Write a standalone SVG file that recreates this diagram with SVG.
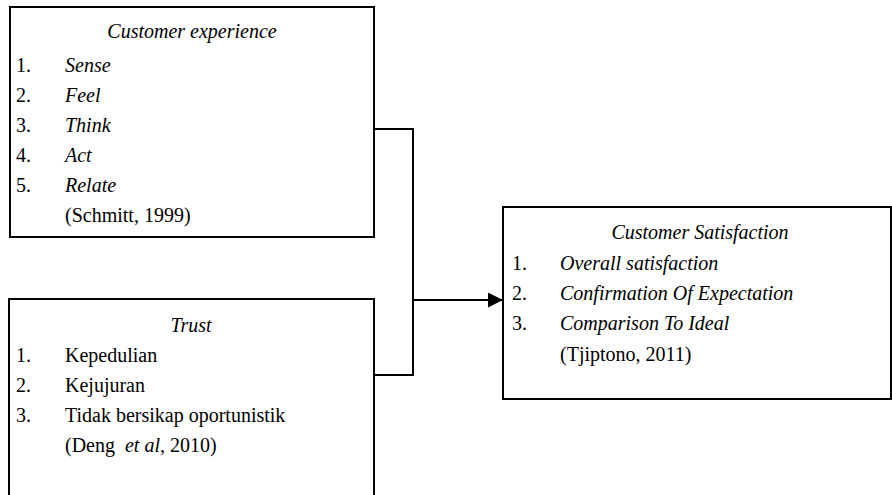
<svg xmlns="http://www.w3.org/2000/svg" width="892" height="495" viewBox="0 0 892 495">
<defs>
<marker id="arr" markerWidth="16" markerHeight="16" refX="15" refY="7.5" orient="auto" markerUnits="userSpaceOnUse">
<path d="M0,0 L15,7.5 L0,15 Z" fill="#000"/>
</marker>
</defs>
<rect width="892" height="495" fill="#fff"/>
<g id="connectors" fill="none" stroke="#000" stroke-width="2">
<polyline points="374,129 413,129 413,375 374,375"/>
<line x1="413" y1="300" x2="503" y2="300" marker-end="url(#arr)"/>
</g>
<g id="customer-experience">
<rect x="10" y="7" width="364" height="230" fill="#fff" stroke="#000" stroke-width="2"/>
<text style="font-family:'Liberation Serif';font-size:20px;font-style:italic" text-anchor="middle" x="192" y="38">Customer experience</text>
<text style="font-family:'Liberation Serif';font-size:20px" x="16" y="72">1.</text>
<text style="font-family:'Liberation Serif';font-size:20px;font-style:italic" x="65" y="72">Sense</text>
<text style="font-family:'Liberation Serif';font-size:20px" x="16" y="102">2.</text>
<text style="font-family:'Liberation Serif';font-size:20px;font-style:italic" x="65" y="102">Feel</text>
<text style="font-family:'Liberation Serif';font-size:20px" x="16" y="132">3.</text>
<text style="font-family:'Liberation Serif';font-size:20px;font-style:italic" x="65" y="132">Think</text>
<text style="font-family:'Liberation Serif';font-size:20px" x="16" y="162">4.</text>
<text style="font-family:'Liberation Serif';font-size:20px;font-style:italic" x="65" y="162">Act</text>
<text style="font-family:'Liberation Serif';font-size:20px" x="16" y="192">5.</text>
<text style="font-family:'Liberation Serif';font-size:20px;font-style:italic" x="65" y="192">Relate</text>
<text style="font-family:'Liberation Serif';font-size:20px" x="65" y="222">(Schmitt, 1999)</text>
</g>
<g id="trust">
<rect x="9" y="299" width="365" height="210" fill="#fff" stroke="#000" stroke-width="2"/>
<text style="font-family:'Liberation Serif';font-size:20px;font-style:italic" text-anchor="middle" x="191" y="332">Trust</text>
<text style="font-family:'Liberation Serif';font-size:20px" x="16" y="362">1.</text>
<text style="font-family:'Liberation Serif';font-size:20px" x="65" y="362">Kepedulian</text>
<text style="font-family:'Liberation Serif';font-size:20px" x="16" y="392">2.</text>
<text style="font-family:'Liberation Serif';font-size:20px" x="65" y="392">Kejujuran</text>
<text style="font-family:'Liberation Serif';font-size:20px" x="16" y="422">3.</text>
<text style="font-family:'Liberation Serif';font-size:20px" x="65" y="422">Tidak bersikap oportunistik</text>
<text style="font-family:'Liberation Serif';font-size:20px" x="65" y="452" xml:space="preserve">(Deng  <tspan style="font-style:italic">et al</tspan>, 2010)</text>
</g>
<g id="customer-satisfaction">
<rect x="503" y="207" width="388" height="192" fill="#fff" stroke="#000" stroke-width="2"/>
<text style="font-family:'Liberation Serif';font-size:20px;font-style:italic" text-anchor="middle" x="700" y="239">Customer Satisfaction</text>
<text style="font-family:'Liberation Serif';font-size:20px" x="512" y="270">1.</text>
<text style="font-family:'Liberation Serif';font-size:20px;font-style:italic" x="560" y="270">Overall satisfaction</text>
<text style="font-family:'Liberation Serif';font-size:20px" x="512" y="300">2.</text>
<text style="font-family:'Liberation Serif';font-size:20px;font-style:italic" x="560" y="300">Confirmation Of Expectation</text>
<text style="font-family:'Liberation Serif';font-size:20px" x="512" y="330">3.</text>
<text style="font-family:'Liberation Serif';font-size:20px;font-style:italic" x="560" y="330">Comparison To Ideal</text>
<text style="font-family:'Liberation Serif';font-size:20px" x="560" y="361">(Tjiptono, 2011)</text>
</g>
</svg>
